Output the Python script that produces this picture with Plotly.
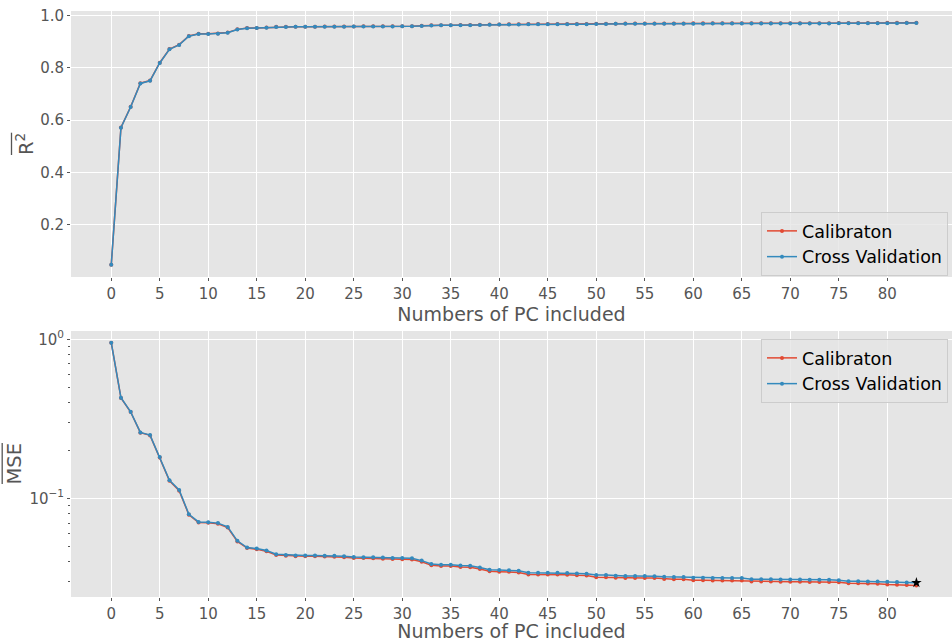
import plotly.graph_objects as go

# Number of principal components included in the model
n_pc = list(range(84))

# Mean R^2 per number of PCs
r2_calibration = [
    0.048, 0.572, 0.651, 0.741, 0.751, 0.819, 0.871, 0.888, 0.9210, 0.9294,
    0.9296, 0.9306, 0.9343, 0.9463, 0.9512, 0.9520, 0.9534, 0.9559, 0.9563, 0.9566,
    0.9567, 0.9567, 0.9568, 0.9569, 0.9572, 0.9577, 0.9578, 0.9579, 0.9582, 0.9584,
    0.9585, 0.9586, 0.9600, 0.9620, 0.9624, 0.9624, 0.9629, 0.9630, 0.9640, 0.9651,
    0.9653, 0.9654, 0.9657, 0.9667, 0.9667, 0.9667, 0.9667, 0.9668, 0.9671, 0.9672,
    0.9680, 0.9680, 0.9682, 0.9683, 0.9683, 0.9683, 0.9684, 0.9688, 0.9689, 0.9689,
    0.9694, 0.9694, 0.9695, 0.9695, 0.9695, 0.9695, 0.9699, 0.9699, 0.9699, 0.9700,
    0.9700, 0.9700, 0.9701, 0.9701, 0.9701, 0.9702, 0.9707, 0.9707, 0.9708, 0.9709,
    0.9712, 0.9713, 0.9714, 0.9716,
]
r2_cross_validation = [
    0.048, 0.571, 0.650, 0.740, 0.750, 0.818, 0.870, 0.887, 0.9204, 0.9288,
    0.9290, 0.9300, 0.9337, 0.9458, 0.9508, 0.9515, 0.9529, 0.9554, 0.9558, 0.9561,
    0.9562, 0.9562, 0.9563, 0.9564, 0.9566, 0.9571, 0.9572, 0.9572, 0.9575, 0.9577,
    0.9578, 0.9579, 0.9593, 0.9612, 0.9616, 0.9616, 0.9621, 0.9622, 0.9632, 0.9643,
    0.9645, 0.9646, 0.9649, 0.9659, 0.9659, 0.9659, 0.9659, 0.9660, 0.9662, 0.9663,
    0.9670, 0.9670, 0.9673, 0.9674, 0.9674, 0.9674, 0.9675, 0.9678, 0.9679, 0.9679,
    0.9682, 0.9682, 0.9683, 0.9683, 0.9683, 0.9683, 0.9689, 0.9689, 0.9689, 0.9690,
    0.9690, 0.9690, 0.9691, 0.9691, 0.9691, 0.9694, 0.9698, 0.9698, 0.9699, 0.9699,
    0.9700, 0.9701, 0.9703, 0.9704,
]

# Mean squared error per number of PCs
mse_calibration = [
    0.952, 0.428, 0.349, 0.259, 0.249, 0.181, 0.129, 0.112, 0.0790, 0.0706,
    0.0704, 0.0694, 0.0657, 0.0537, 0.0488, 0.0480, 0.0466, 0.0441, 0.0437, 0.0434,
    0.0433, 0.0433, 0.0432, 0.0431, 0.0428, 0.0423, 0.0422, 0.0421, 0.0418, 0.0416,
    0.0415, 0.0414, 0.0400, 0.0380, 0.0376, 0.0376, 0.0371, 0.0370, 0.0360, 0.0349,
    0.0347, 0.0346, 0.0343, 0.0333, 0.0333, 0.0333, 0.0333, 0.0332, 0.0329, 0.0328,
    0.0320, 0.0320, 0.0318, 0.0317, 0.0317, 0.0317, 0.0316, 0.0312, 0.0311, 0.0311,
    0.0306, 0.0306, 0.0305, 0.0305, 0.0305, 0.0305, 0.0301, 0.0301, 0.0301, 0.0300,
    0.0300, 0.0300, 0.0299, 0.0299, 0.0299, 0.0298, 0.0293, 0.0293, 0.0292, 0.0291,
    0.0288, 0.0287, 0.0286, 0.0284,
]
mse_cross_validation = [
    0.952, 0.429, 0.350, 0.260, 0.250, 0.182, 0.130, 0.113, 0.0796, 0.0712,
    0.0710, 0.0700, 0.0663, 0.0542, 0.0492, 0.0485, 0.0471, 0.0446, 0.0442, 0.0439,
    0.0438, 0.0438, 0.0437, 0.0436, 0.0434, 0.0429, 0.0428, 0.0428, 0.0425, 0.0423,
    0.0422, 0.0421, 0.0407, 0.0388, 0.0384, 0.0384, 0.0379, 0.0378, 0.0368, 0.0357,
    0.0355, 0.0354, 0.0351, 0.0341, 0.0341, 0.0341, 0.0341, 0.0340, 0.0338, 0.0337,
    0.0330, 0.0330, 0.0327, 0.0326, 0.0326, 0.0326, 0.0325, 0.0322, 0.0321, 0.0321,
    0.0318, 0.0318, 0.0317, 0.0317, 0.0317, 0.0317, 0.0311, 0.0311, 0.0311, 0.0310,
    0.0310, 0.0310, 0.0309, 0.0309, 0.0309, 0.0306, 0.0302, 0.0302, 0.0301, 0.0301,
    0.0300, 0.0299, 0.0297, 0.0296,
]

# Best model (lowest cross-validation error)
best_pc = 83

x_ticks = list(range(0, 81, 5))
series_names = ["Calibraton", "Cross Validation"]

RED = "#E24A33"
BLUE = "#348ABD"
GRID_BG = "#E5E5E5"
TEXT_GREY = "#555555"
FONT = "DejaVu Sans"

W, H = 952, 642
M_L, M_R, M_T, M_B = 71, 0, 11, 45
PW, PH = W - M_L - M_R, H - M_T - M_B


def px_x(px):
    return (px - M_L) / PW


def px_y(py):
    return (H - M_B - py) / PH


fig = go.Figure()

for values, name, color, leg in [
    (r2_calibration, series_names[0], RED, "legend"),
    (r2_cross_validation, series_names[1], BLUE, "legend"),
]:
    fig.add_trace(go.Scatter(
        x=n_pc, y=values, name=name, mode="lines+markers",
        line=dict(color=color, width=1.5), marker=dict(color=color, size=4),
        xaxis="x", yaxis="y", legend=leg,
    ))

for values, name, color, leg in [
    (mse_calibration, series_names[0], RED, "legend2"),
    (mse_cross_validation, series_names[1], BLUE, "legend2"),
]:
    fig.add_trace(go.Scatter(
        x=n_pc, y=values, name=name, mode="lines+markers",
        line=dict(color=color, width=1.5), marker=dict(color=color, size=4),
        xaxis="x2", yaxis="y2", legend=leg,
    ))

fig.add_trace(go.Scatter(
    x=[best_pc], y=[mse_cross_validation[best_pc]], mode="markers",
    marker=dict(symbol="star", color="black", size=8),
    xaxis="x2", yaxis="y2", showlegend=False,
))

tick_font = dict(family=FONT, size=15, color=TEXT_GREY)
title_font = dict(family=FONT, size=19, color=TEXT_GREY)

x_common = dict(
    range=[-4.15, 86.67], tickmode="array", tickvals=x_ticks,
    showgrid=True, gridcolor="white", gridwidth=1.2, zeroline=False,
    ticks="outside", ticklen=3, tickcolor=TEXT_GREY, tickfont=tick_font,
    title=dict(text="Numbers of PC included", font=title_font, standoff=0),
    showline=False,
)

decade_minor = [0.03, 0.04, 0.05, 0.06, 0.07, 0.08, 0.09,
                0.2, 0.3, 0.4, 0.5, 0.6, 0.7, 0.8, 0.9]

legend_common = dict(
    xanchor="right", yanchor="top", x=px_x(948),
    bgcolor="rgba(229,229,229,0.8)", bordercolor="#CCCCCC", borderwidth=1,
    font=dict(family=FONT, size=17.5, color="black"),
)

fig.update_layout(
    width=W, height=H,
    margin=dict(l=M_L, r=M_R, t=M_T, b=M_B),
    paper_bgcolor="white", plot_bgcolor=GRID_BG,
    font=dict(family=FONT),
    xaxis=dict(domain=[0, 1], anchor="y", **x_common),
    yaxis=dict(
        domain=[px_y(277), 1], anchor="x", range=[0.0015, 1.0164],
        tickmode="array", tickvals=[0.2, 0.4, 0.6, 0.8, 1.0], tickformat=".1f",
        showgrid=True, gridcolor="white", gridwidth=1.2, zeroline=False,
        ticks="outside", ticklen=3, tickcolor=TEXT_GREY, tickfont=tick_font,
    ),
    xaxis2=dict(domain=[0, 1], anchor="y2", **x_common),
    yaxis2=dict(
        domain=[0, px_y(331)], anchor="x2", type="log", range=[-1.619, 0.052],
        tickmode="array", tickvals=[0.1, 1],
        ticktext=["10<sup>−1</sup>", "10<sup>0</sup>"],
        showgrid=True, gridcolor="white", gridwidth=1.2, zeroline=False,
        ticks="outside", ticklen=3, tickcolor=TEXT_GREY, tickfont=tick_font,
        minor=dict(tickvals=decade_minor, ticks="outside", ticklen=2,
                   tickcolor=TEXT_GREY, showgrid=False),
    ),
    legend=dict(y=px_y(212), **legend_common),
    legend2=dict(y=px_y(339), **legend_common),
    showlegend=True,
)

# Y-axis titles (mean quantities, marked with an overbar)
fig.add_annotation(
    text="R<sup>2</sup>", xref="paper", yref="paper",
    x=px_x(25), y=px_y(144), xanchor="center", yanchor="middle",
    textangle=-90, showarrow=False, font=dict(family=FONT, size=19.5, color=TEXT_GREY),
)
fig.add_annotation(
    text="MSE", xref="paper", yref="paper",
    x=px_x(14), y=px_y(463.5), xanchor="center", yanchor="middle",
    textangle=-90, showarrow=False, font=dict(family=FONT, size=19.5, color=TEXT_GREY),
)
fig.add_shape(type="line", xref="paper", yref="paper",
              x0=px_x(11.5), x1=px_x(11.5), y0=px_y(155), y1=px_y(132.7),
              line=dict(color=TEXT_GREY, width=1.3))
fig.add_shape(type="line", xref="paper", yref="paper",
              x0=px_x(2.2), x1=px_x(2.2), y0=px_y(484), y1=px_y(443),
              line=dict(color=TEXT_GREY, width=1.3))

fig.write_html("out.html")
